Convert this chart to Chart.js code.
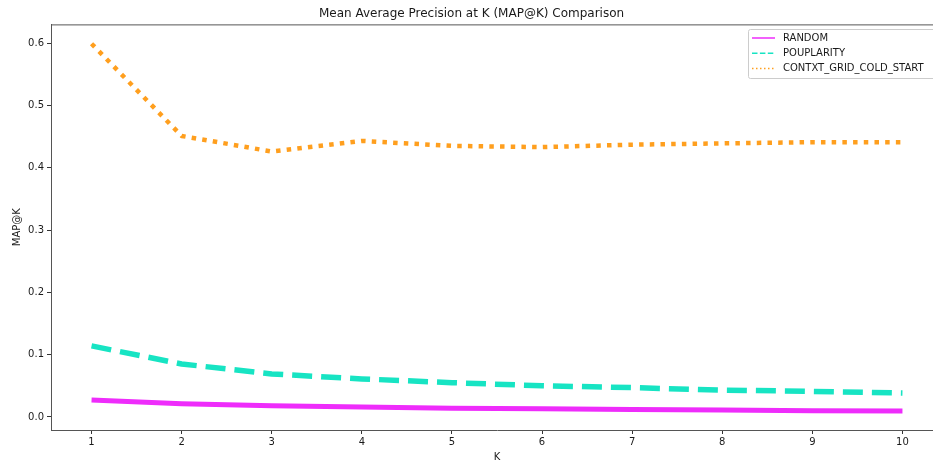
<!DOCTYPE html>
<html><head><meta charset="utf-8">
<script src="https://cdn.jsdelivr.net/npm/chart.js@4/dist/chart.umd.min.js"></script>
<style>
html,body{margin:0;padding:0;background:#fff;overflow:hidden;}
#wrap{width:933px;height:462px;overflow:hidden;position:relative;background:#fff;}
</style></head><body>
<div id="wrap"><canvas id="c" width="970" height="462"></canvas></div>
<script>
const kValues = [1, 2, 3, 4, 5, 6, 7, 8, 9, 10];
const randomMap = [0.027, 0.021, 0.018, 0.016, 0.014, 0.013, 0.012, 0.011, 0.010, 0.0095];
const popularityMap = [0.114, 0.085, 0.069, 0.061, 0.055, 0.050, 0.047, 0.043, 0.041, 0.0385];
const contextMap = [0.599, 0.451, 0.426, 0.443, 0.435, 0.433, 0.437, 0.439, 0.441, 0.441];
const seriesNames = ['RANDOM', 'POUPLARITY', 'CONTXT_GRID_COLD_START'];
const xTickLabels = [1, 2, 3, 4, 5, 6, 7, 8, 9, 10];
const yTickLabels = [0.0, 0.1, 0.2, 0.3, 0.4, 0.5, 0.6];

Chart.defaults.font.family = '"DejaVu Sans", sans-serif';
Chart.defaults.color = '#1a1a1a';

const toPts = arr => kValues.map((k, i) => ({x: k, y: arr[i]}));

const legendStyles = [
  {dash: [], width: 1.5},
  {dash: [5.5, 2.4], width: 1.5},
  {dash: [1.5, 2.5], width: 1.5}
];

const framePlugin = {
  id: 'frame',
  afterDraw(chart) {
    const {ctx, chartArea} = chart;
    ctx.save();
    ctx.strokeStyle = '#555';
    ctx.lineWidth = 1;
    ctx.beginPath();
    ctx.moveTo(chartArea.left, chartArea.top + 0.5);
    ctx.lineTo(chartArea.right, chartArea.top + 0.5);
    ctx.stroke();
    // legend
    const bx = 748.5, by = 29.5, bw = 230, bh = 49, r = 2;
    ctx.fillStyle = 'rgba(255,255,255,0.8)';
    ctx.strokeStyle = '#cccccc';
    ctx.beginPath();
    ctx.moveTo(bx + r, by);
    ctx.lineTo(bx + bw - r, by);
    ctx.quadraticCurveTo(bx + bw, by, bx + bw, by + r);
    ctx.lineTo(bx + bw, by + bh - r);
    ctx.quadraticCurveTo(bx + bw, by + bh, bx + bw - r, by + bh);
    ctx.lineTo(bx + r, by + bh);
    ctx.quadraticCurveTo(bx, by + bh, bx, by + bh - r);
    ctx.lineTo(bx, by + r);
    ctx.quadraticCurveTo(bx, by, bx + r, by);
    ctx.closePath();
    ctx.fill();
    ctx.stroke();
    chart.data.datasets.forEach((ds, i) => {
      const y = 38 + i * 15.2;
      ctx.strokeStyle = ds.borderColor;
      ctx.lineWidth = legendStyles[i].width;
      ctx.setLineDash(legendStyles[i].dash);
      ctx.beginPath();
      ctx.moveTo(752, y);
      ctx.lineTo(775, y);
      ctx.stroke();
      ctx.setLineDash([]);
      ctx.fillStyle = '#1a1a1a';
      ctx.font = '10px "DejaVu Sans"';
      ctx.textBaseline = 'middle';
      ctx.textAlign = 'left';
      ctx.fillText(ds.label, 783, y + 0.5);
    });
    ctx.restore();
  }
};

new Chart(document.getElementById('c'), {
  type: 'line',
  data: {
    datasets: [
      {label: seriesNames[0], data: toPts(randomMap), borderColor: '#ee2cfb', borderWidth: 5, borderDash: [], pointRadius: 0, fill: false, tension: 0, borderJoinStyle: 'round'},
      {label: seriesNames[1], data: toPts(popularityMap), borderColor: '#17e4c3', borderWidth: 5.5, borderDash: [20, 9], pointRadius: 0, fill: false, tension: 0, borderJoinStyle: 'round'},
      {label: seriesNames[2], data: toPts(contextMap), borderColor: '#ff9f1e', borderWidth: 4.5, borderDash: [4.5, 6.2], pointRadius: 0, fill: false, tension: 0, borderJoinStyle: 'round'}
    ]
  },
  options: {
    responsive: false,
    animation: false,
    devicePixelRatio: 1,
    layout: {padding: {left: 0, right: 27, top: 0, bottom: 0}},
    plugins: {
      legend: {display: false},
      tooltip: {enabled: false},
      title: {display: true, text: 'Mean Average Precision at K (MAP@K) Comparison', font: {size: 12, weight: 'normal'}, color: '#1a1a1a', padding: {top: 7, bottom: 3}}
    },
    scales: {
      x: {
        type: 'linear', min: 0.55, max: 10.45,
        afterBuildTicks: s => { s.ticks = xTickLabels.map(v => ({value: v})); },
        afterFit: s => { s.height = 32; },
        ticks: {font: {size: 10}, color: '#1a1a1a', padding: 2, maxRotation: 0, autoSkip: false, callback: v => String(v)},
        grid: {display: true, drawOnChartArea: false, drawTicks: true, tickLength: 4, color: '#333'},
        border: {display: true, color: '#555', width: 1},
        title: {display: true, text: 'K', font: {size: 10}, color: '#1a1a1a', padding: {top: 0, bottom: -1}}
      },
      y: {
        type: 'linear', min: -0.021, max: 0.630,
        afterBuildTicks: s => { s.ticks = yTickLabels.map(v => ({value: v})); },
        afterFit: s => { s.width = 51; },
        ticks: {font: {size: 10}, color: '#1a1a1a', padding: 3, callback: v => v.toFixed(1)},
        grid: {display: true, drawOnChartArea: false, drawTicks: true, tickLength: 4, color: '#333'},
        border: {display: true, color: '#555', width: 1},
        title: {display: true, text: 'MAP@K', font: {size: 10}, color: '#1a1a1a', padding: {top: 11, bottom: 0}}
      }
    }
  },
  plugins: [framePlugin]
});
</script>
</body></html>
